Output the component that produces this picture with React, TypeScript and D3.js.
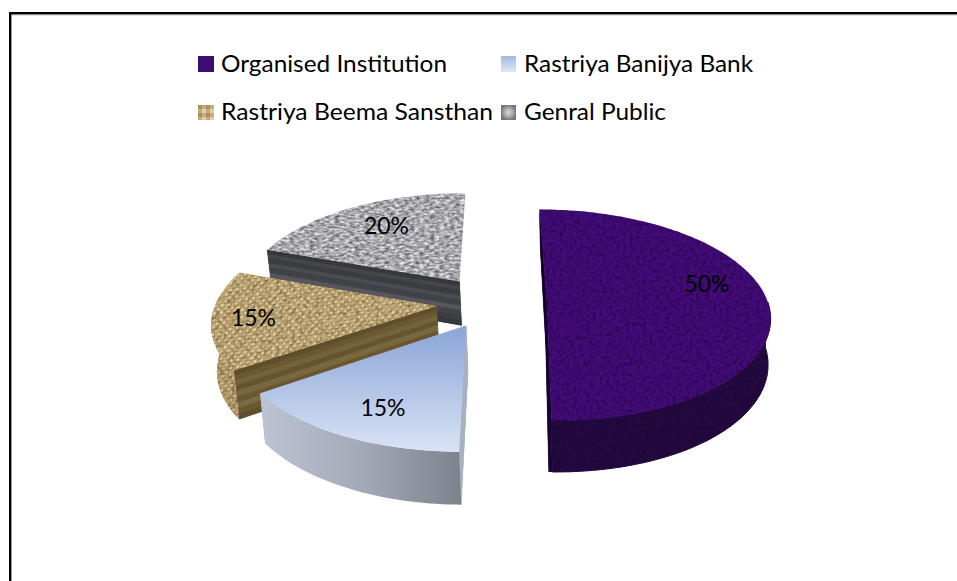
import React from "react";
import * as d3 from "d3";

// Chart values
const categories = ["Organised Institution", "Rastriya Banijya Bank", "Rastriya Beema Sansthan", "Genral Public"];
const shares = [50, 15, 15, 20];
const shareLabels = ["50%", "15%", "15%", "20%"];

// Back-to-front painting order of the detached slices
const paintOrder = [3, 2, 1, 0];

// Layout of text and swatches
const labelAnchors = [[707, 292], [383, 416], [253.5, 326], [386.5, 234]];
const legendSwatches = [[198, 56, 16, 16], [501, 56, 15, 16], [198, 105, 16, 15], [501, 105, 15, 15]];
const legendText = [[221, 72, 226], [524, 72, 229], [221, 120, 272], [524, 120, 142]];

// Camera used to lay the disc onto the page
const vanishX = 481, vanishY = -540, centreX = 491.5, centreY = 302;
const depth = 8.1, explode = 0.25, thickness = 45;
const pinch = 0.015, pinchX = 600;
const leftSweep = 0.042, leftTurn = 0.018, sweepDepthShare = 0.45;
const radius = d3.scaleLinear().domain([0, 1]).range([0, 221]);

const TAU = Math.PI * 2;
const FONT = "Lato, Carlito, Calibri, sans-serif";

type Slice = d3.PieArcDatum<number>;

function project(s: Slice, r: number, angle: number, level: number): [number, number] {
  const mid = (s.startAngle + s.endAngle) / 2;
  // The left half of the disc reads slightly swept round by the camera
  const lean = Math.min(0, Math.sin(angle));
  const sweep = angle >= Math.PI ? leftTurn + leftSweep * lean * lean : 0;
  const u = r * Math.sin(angle + sweep) + explode * Math.sin(mid);
  const v = r * Math.cos(angle + sweep * sweepDepthShare) + explode * Math.cos(mid);
  const k = depth / (depth + v);
  const x = vanishX + (centreX - vanishX + radius(u)) * k;
  return [x + (pinchX - x) * pinch * level, vanishY + (centreY - vanishY + thickness * level) * k];
}

const outline = d3.line<[number, number]>();

function arcPoints(s: Slice, from: number, to: number, level: number) {
  const n = Math.max(2, Math.ceil((to - from) * 40));
  return d3.range(n + 1).map((i) => project(s, 1, from + ((to - from) * i) / n, level));
}

function topFace(s: Slice) {
  return outline([project(s, 0, 0, 0), ...arcPoints(s, s.startAngle, s.endAngle, 0)]) + "Z";
}

function rimFace(s: Slice) {
  const from = Math.max(s.startAngle, Math.PI / 2);
  // The rim stops at the leftmost point of the disc so its edge runs straight down
  const to = Math.min(s.endAngle, (3 * Math.PI) / 2 - 0.06);
  if (to <= from) return null;
  return outline([...arcPoints(s, from, to, 0), ...arcPoints(s, from, to, 1).reverse()]) + "Z";
}

function slanted(s: Slice, a: number, r: number, l: number, slant: number): [number, number] {
  const [x, y] = project(s, r, a, l);
  return [x - slant * l * (0.5 - 0.5 * r * Math.cos(a)), y];
}

function cutBand(s: Slice, a: number, l0: number, l1: number, slant: number) {
  return outline([slanted(s, a, 0, l0, slant), slanted(s, a, 1, l0, slant), slanted(s, a, 1, l1, slant), slanted(s, a, 0, l1, slant)]) + "Z";
}

function cutBacking(s: Slice, a: number, slant: number) {
  return outline([
    project(s, 0, a, 0),
    project(s, 1, a, 0),
    project(s, 1, a, 1),
    slanted(s, a, 1, 1, slant),
    slanted(s, a, 0, 1, slant),
  ]) + "Z";
}

// Stripe stacks for the cut faces of each slice
const bandStops = [0, 0.1, 0.2, 0.32, 0.42, 0.55, 0.66, 0.78, 0.9, 1];
const cutColours = [
  ["#1a0632", "#1a0632", "#1a0632", "#1a0632", "#1a0632", "#1a0632", "#1a0632", "#1a0632", "#1a0632"],
  ["#a9b2c2", "#a9b2c2", "#a9b2c2", "#a9b2c2", "#a9b2c2", "#a9b2c2", "#a9b2c2", "#a9b2c2", "#a9b2c2"],
  ["#5f4d2c", "#6b5833", "#756239", "#66532f", "#7a673f", "#6a5732", "#7d6a42", "#6b5833", "#5f4d2c"],
  ["#36383c", "#44464a", "#3a3c40", "#4a4c51", "#40424a", "#55575c", "#42444a", "#3c3e43", "#36383c"],
];
const cutSlant = [3.5, 0, 0, 0];
// Faces turned away from the viewer are left out
const endCutVisible = [true, true, false, false];

const topFills = ["#440b7c", "url(#blueTop)", "url(#weave)", "#a8a9ad"];
const rimFills = ["#240940", "url(#blueRim)", "url(#weaveDark)", "#55575c"];
const rimStrokes = ["#240940", "none", "none", "none"];
const topFilters = ["url(#grainPurple)", undefined, "url(#grainTan)", "url(#granite)"];
const rimFilters = ["url(#grainPurple)", undefined, "url(#grainTan)", undefined];
const swatchFills = ["#3f0c70", "url(#swatchBlue)", "url(#swatchTan)", "url(#swatchGrey)"];

function WeaveTile({ id, base, light, dark }: { id: string; base: string; light: string; dark: string }) {
  return (
    <pattern id={id} width={7} height={7} patternUnits="userSpaceOnUse" patternTransform="rotate(-7) skewX(-12)">
      <rect width={7} height={7} fill={base} />
      <rect x={0} y={0} width={3} height={2.5} fill={light} />
      <rect x={3.5} y={3.5} width={3} height={2.5} fill={light} />
      <rect x={0} y={2.7} width={3.5} height={0.7} fill={dark} />
      <rect x={3.5} y={6.2} width={3.5} height={0.7} fill={dark} />
      <rect x={3} y={0} width={0.5} height={3.2} fill={dark} />
      <rect x={6.5} y={3.5} width={0.5} height={3.2} fill={dark} />
    </pattern>
  );
}

export default function App() {
  const slices = d3.pie<number>().sort(null).startAngle(0).endAngle(TAU)(shares);

  return (
    <svg width={957} height={581} style={{ position: "absolute", left: 0, top: 0, background: "#fff" }}>
      <defs>
        <linearGradient id="blueTop" gradientUnits="userSpaceOnUse" x1={0} y1={323} x2={0} y2={453}>
          <stop offset="0" stopColor="#87a3d6" />
          <stop offset="1" stopColor="#dbe4f6" />
        </linearGradient>
        <linearGradient id="blueRim" gradientUnits="userSpaceOnUse" x1={262} y1={0} x2={462} y2={0}>
          <stop offset="0" stopColor="#bcc4d3" />
          <stop offset="0.5" stopColor="#a2aab8" />
          <stop offset="1" stopColor="#7c838d" />
        </linearGradient>
        <linearGradient id="swatchBlue" x1="0" y1="0" x2="0" y2="1">
          <stop offset="0" stopColor="#a3b9e2" />
          <stop offset="1" stopColor="#dfe7f6" />
        </linearGradient>
        <pattern id="swatchTan" width={8} height={8} patternUnits="userSpaceOnUse" x={198} y={105}>
          <rect width={8} height={8} fill="#c4ab7b" />
          <rect width={4} height={4} fill="#a98f5e" />
          <rect x={4} y={4} width={4} height={4} fill="#e0cfa8" />
        </pattern>
        <radialGradient id="swatchGrey">
          <stop offset="0" stopColor="#d8d8da" />
          <stop offset="0.6" stopColor="#a8a8ab" />
          <stop offset="1" stopColor="#77777a" />
        </radialGradient>
        <WeaveTile id="weave" base="#c2aa78" light="#e0cfa6" dark="#a08655" />
        <WeaveTile id="weaveDark" base="#b89f6e" light="#d6c397" dark="#957b4c" />

        <filter id="grainPurple" filterUnits="userSpaceOnUse" x={0} y={0} width={957} height={581} colorInterpolationFilters="sRGB">
          <feTurbulence type="fractalNoise" baseFrequency="0.3" numOctaves={3} seed={4} />
          <feGaussianBlur stdDeviation={0.4} result="noise" />
          <feColorMatrix in="noise" values="0 0 0 0 0.1  0 0 0 0 0.02  0 0 0 0 0.18  1.4 0 0 0 -0.55" result="speck" />
          <feComposite in="speck" in2="SourceAlpha" operator="in" result="clipped" />
          <feMerge>
            <feMergeNode in="SourceGraphic" />
            <feMergeNode in="clipped" />
          </feMerge>
        </filter>
        <filter id="granite" filterUnits="userSpaceOnUse" x={0} y={0} width={957} height={581} colorInterpolationFilters="sRGB">
          <feTurbulence type="fractalNoise" baseFrequency="0.2 0.45" numOctaves={3} seed={9} />
          <feGaussianBlur stdDeviation={0.4} result="noise" />
          <feColorMatrix in="noise" values="0.9 0 0 0 0.21  0.9 0 0 0 0.21  0.9 0 0 0 0.23  0 0 0 0 1" result="grey" />
          <feComposite in="grey" in2="SourceAlpha" operator="in" />
        </filter>
        <filter id="grainTan" filterUnits="userSpaceOnUse" x={0} y={0} width={957} height={581} colorInterpolationFilters="sRGB">
          <feGaussianBlur in="SourceGraphic" stdDeviation={0.55} result="soft" />
          <feTurbulence type="fractalNoise" baseFrequency="0.25" numOctaves={2} seed={2} result="noise" />
          <feColorMatrix in="noise" values="0 0 0 0 0.3  0 0 0 0 0.22  0 0 0 0 0.08  1.2 0 0 0 -0.5" result="speck" />
          <feComposite in="speck" in2="SourceAlpha" operator="in" result="clipped" />
          <feComposite in="soft" in2="SourceAlpha" operator="in" result="softInside" />
          <feMerge>
            <feMergeNode in="SourceGraphic" />
            <feMergeNode in="softInside" />
            <feMergeNode in="clipped" />
          </feMerge>
        </filter>
      </defs>

      {/* Frame: only the top and left rules fall inside the page */}
      <rect x={11} y={14.5} width={946} height={1} fill="#cfcfcf" />
      <rect x={9} y={12} width={948} height={2.4} fill="#000" />
      <rect x={9} y={12} width={2.4} height={569} fill="#000" />

      {paintOrder.map((i) => {
        const s = slices[i];
        const rim = rimFace(s);
        const cuts = endCutVisible[i] ? [s.endAngle, s.startAngle] : [s.startAngle];
        return (
          <g key={categories[i]}>
            {cuts.map((a, c) => (
              <g key={c}>
                <path d={cutBacking(s, a, cutSlant[i])} fill={cutColours[i][0]} />
                {cutColours[i].map((col, b) => (
                  <path
                    key={b}
                    d={cutBand(s, a, bandStops[b], bandStops[b + 1], cutSlant[i])}
                    fill={col}
                    stroke={col}
                    strokeWidth={0.3}
                  />
                ))}
              </g>
            ))}
            {rim && <path d={rim} fill={rimFills[i]} stroke={rimStrokes[i]} strokeWidth={1} filter={rimFilters[i]} />}
            <path d={topFace(s)} fill={topFills[i]} filter={topFilters[i]} />
          </g>
        );
      })}

      {shareLabels.map((t, i) => (
        <text key={i} x={labelAnchors[i][0]} y={labelAnchors[i][1]} textAnchor="middle" fontFamily={FONT} fontSize={23} fill="#000">
          {t}
        </text>
      ))}

      {categories.map((c, i) => (
        <g key={c}>
          <rect x={legendSwatches[i][0]} y={legendSwatches[i][1]} width={legendSwatches[i][2]} height={legendSwatches[i][3]} fill={swatchFills[i]} />
          <text x={legendText[i][0]} y={legendText[i][1]} fontFamily={FONT} fontSize={24} fill="#000" textLength={legendText[i][2]} lengthAdjust="spacingAndGlyphs">
            {c}
          </text>
        </g>
      ))}
    </svg>
  );
}
